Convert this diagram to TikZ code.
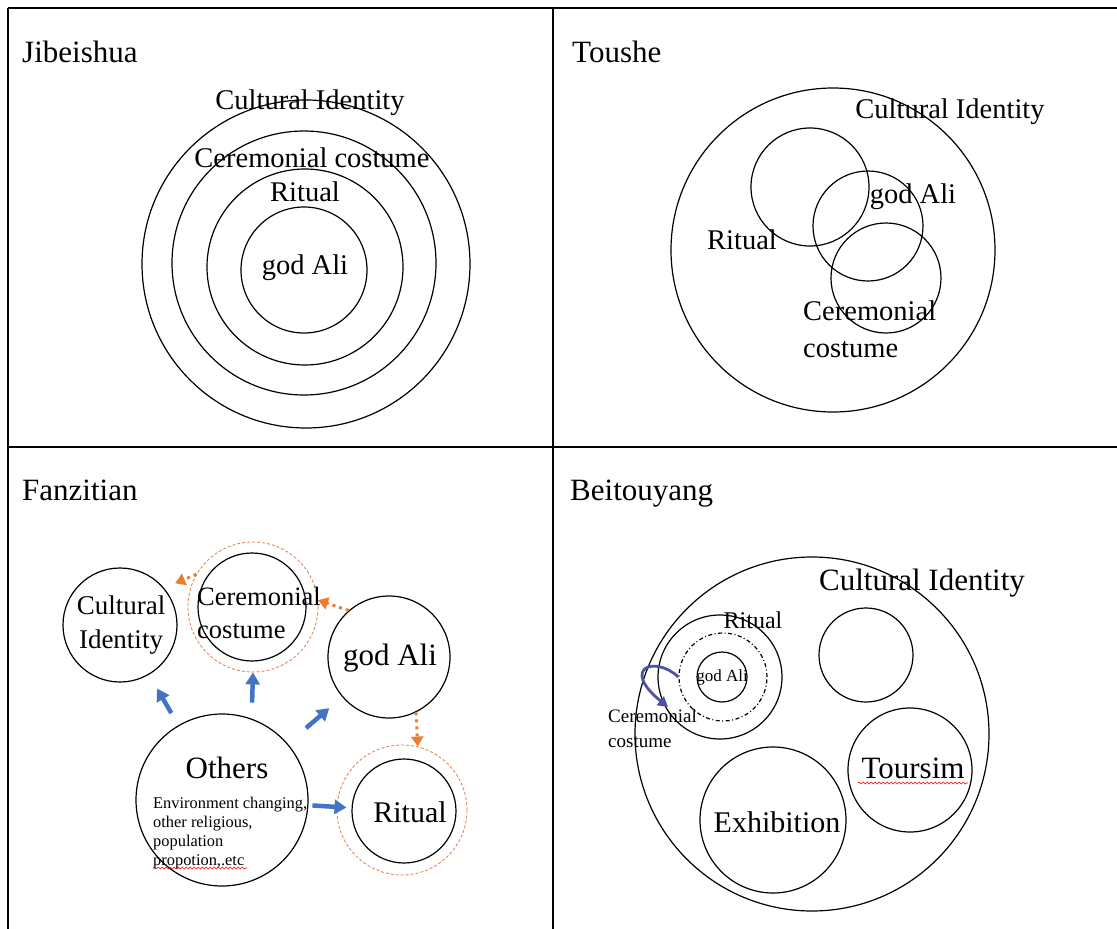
\documentclass[tikz,border=0pt]{standalone}
\usepackage{fontspec}
\setmainfont{Liberation Serif}
\usetikzlibrary{arrows.meta,decorations.pathmorphing,calc}
\newcommand{\fsz}[2]{\fontsize{#1}{#2}\selectfont}
\definecolor{barrowc}{RGB}{68,114,196}
\definecolor{oarrowc}{RGB}{237,125,49}
\definecolor{ringc}{RGB}{230,120,80}
\definecolor{curvec}{RGB}{80,80,170}
\tikzset{
  grid/.style={line width=2pt, black},
  circ/.style={circle, draw=black, line width=1.2pt, inner sep=0pt},
  ring/.style={circle, draw=ringc, line width=0.8pt, dash pattern=on 3pt off 2pt, inner sep=0pt},
  dotring/.style={circle, draw=black, line width=1.2pt, dash pattern=on 4pt off 2.5pt on 1pt off 2.5pt, inner sep=0pt},
  txt/.style={inner sep=0pt, text=black},
  title/.style={txt, anchor=base west, font=\fsz{31}{37}},
  barrow/.style={draw=barrowc, line width=4.5pt, -{Triangle[length=12pt,width=14pt]}},
  oarrow/.style={draw=oarrowc, line width=3pt, dash pattern=on 3pt off 4pt, -{Triangle[length=10pt,width=12pt]}},
  carrow/.style={draw=curvec, line width=2.8pt, -{Triangle[length=10pt,width=11pt]}},
  squig/.style={draw=red, line width=0.6pt, decorate, decoration={snake, amplitude=1pt, segment length=4pt}},
}
\begin{document}
\begin{tikzpicture}[x=1pt,y=-1pt]
\useasboundingbox (0,0) rectangle (1117,929);
\fill[white] (0,0) rectangle (1117,929);
% table
\draw[grid] (8,8) -- (1117,8);
\draw[grid] (8,447) -- (1117,447);
\draw[grid] (8,8) -- (8,929);
\draw[grid] (553,8) -- (553,929);

% titles
\node[title] (tJ) at (22,62) {Jibeishua};
\node[title] (tT) at (572,62) {Toushe};
\node[title] (tF) at (22,500) {Fanzitian};
\node[title] (tB) at (570,500) {Beitouyang};

% ---------- Jibeishua ----------
\node[circ, minimum size=328pt] (j1) at (306,264) {};
\node[circ, minimum size=264pt] (j2) at (304,263) {};
\node[circ, minimum size=196pt] (j3) at (305,267) {};
\node[circ, minimum size=126pt] (j4) at (304,270) {};
\node[txt, font=\fsz{28.5}{34}] (jl1) at (310,103) {Cultural Identity};
\node[txt, font=\fsz{28.5}{34}] (jl2) at (312,158) {Ceremonial costume};
\node[txt, font=\fsz{28.5}{34}] (jl3) at (305,192) {Ritual};
\node[txt, font=\fsz{28.5}{34}] (jl4) at (305,268) {god Ali};

% ---------- Toushe ----------
\node[circ, minimum size=324pt] (t1) at (833,250) {};
\node[circ, minimum size=118pt] (tr) at (810,187) {};
\node[circ, minimum size=110pt] (tg) at (868,226) {};
\node[circ, minimum size=110pt] (tc) at (886,278) {};
\node[txt, font=\fsz{28.5}{37}] (tl1) at (950,112) {Cultural Identity};
\node[txt, font=\fsz{28.5}{37}] (tl2) at (913,197) {god Ali};
\node[txt, font=\fsz{28.5}{37}] (tl3) at (742,240) {Ritual};
\node[txt, font=\fsz{28.5}{37}, align=left, anchor=west] (tl4) at (803,329) {Ceremonial\\costume};

% ---------- Fanzitian ----------
\node[circ, minimum size=114pt] (fcult) at (120,625) {};
\node[circ, minimum size=108pt] (fcer) at (252,607) {};
\node[ring, minimum size=130pt] (fcerO) at (253,607) {};
\node[circ, minimum size=122pt] (fali) at (389,657) {};
\node[circ, minimum size=104pt] (frit) at (404,811) {};
\node[ring, minimum size=130pt] (fritO) at (402,810) {};
\node[circ, minimum size=172pt] (foth) at (222,800) {};
\node[txt, font=\fsz{27}{34}, align=center] (fl1) at (121,625) {Cultural\\Identity};
\node[txt, font=\fsz{26.5}{33}, align=left, anchor=west] (fl2) at (197,613) {Ceremonial\\costume};
\node[txt, font=\fsz{31}{37}] (fl3) at (390,658) {god Ali};
\node[txt, font=\fsz{30}{36}] (fl4) at (410,812) {Ritual};
\node[txt, font=\fsz{31}{37}] (fl5) at (227,768) {Others};
\node[txt, font=\fsz{16.4}{19}, align=left, anchor=north west] (fl6) at (153,797)
  {Environment changing,\\other religious,\\population\\propotion,.etc};
\draw[squig] (153,868) -- (247,868);

% blue arrows
\draw[barrow, shorten <=14pt, shorten >=16pt] (foth) -- (fcult);
\draw[barrow, shorten <=16pt] (foth.70) -- (fcerO.south);
\draw[barrow, shorten <=24pt, shorten >=17pt] (foth) -- (fali);
\draw[barrow, shorten <=4pt, shorten >=5pt] (foth) -- (frit);
% orange arrows
\draw[oarrow, shorten >=12pt] (fcerO.150) -- (fcult.40);
\draw[oarrow] (fali.131) -- (fcerO.6);
\draw[oarrow] (fali.-64) -- (fritO.76);

% ---------- Beitouyang ----------
\node[circ, minimum size=354pt] (bci) at (812,734) {};
\node[circ, minimum size=124pt] (brit) at (720,677) {};
\node[dotring, minimum size=88pt] (bdot) at (723,677) {};
\node[circ, minimum size=50pt] (bali) at (722,677) {};
\node[circ, minimum size=94pt] (bemp) at (866,655) {};
\node[circ, minimum size=124pt] (btour) at (910,770) {};
\node[circ, minimum size=146pt] (bexh) at (773,820) {};
\node[txt, font=\fsz{31}{37}] (bl1) at (922,583) {Cultural Identity};
\node[txt, font=\fsz{24}{29}] (bl2) at (753,620) {Ritual};
\node[txt, font=\fsz{17}{20}] (bl3) at (722,677) {god Ali};
\node[txt, font=\fsz{19}{25}, align=left, anchor=west] (bl4) at (608,728) {Ceremonial\\costume};
\node[txt, font=\fsz{31}{37}] (bl5) at (913,768) {Toursim};
\node[txt, font=\fsz{30}{36}] (bl6) at (777,822) {Exhibition};
\draw[squig] (858,783) -- (968,783);
\coordinate (btip) at (668,707);
\draw[carrow] (bdot.west) .. controls (655,655) and (620,668) .. (btip);
\end{tikzpicture}
\end{document}
